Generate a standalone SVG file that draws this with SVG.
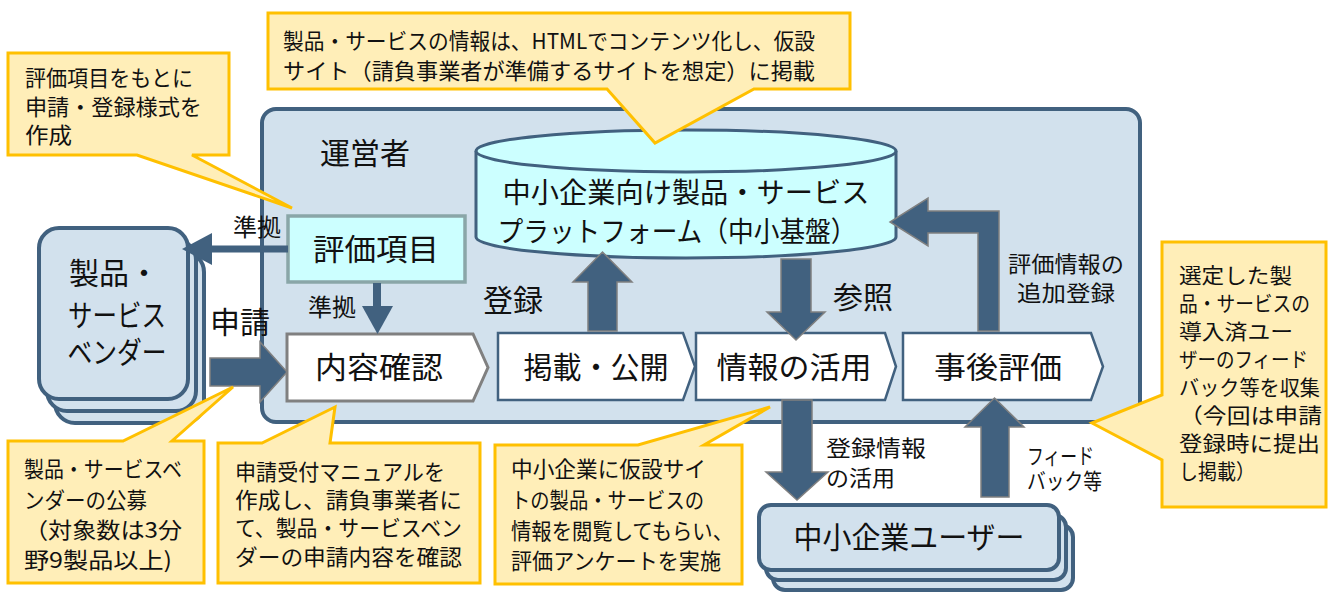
<svg xmlns="http://www.w3.org/2000/svg" width="1330" height="593" viewBox="0 0 1330 593">
<style>
text{font-family:"Noto Sans CJK JP","Noto Sans",sans-serif;fill:#111}
.t21{font-size:21px}
.t22{font-size:22px}
.t24{font-size:24px}
.t30{font-size:30px}
.t28{font-size:28px}
.mid{text-anchor:middle}
.call{fill:#ffeeb8;stroke:#ffc000;stroke-width:3;stroke-linejoin:miter}
.blk{fill:#41617f;stroke:#808080;stroke-width:1.5}
.chev{fill:#fff;stroke:#41617f;stroke-width:2.5}
.stk{fill:#d2e1ed;stroke:#41617f;stroke-width:4}
</style>
<rect width="1330" height="593" fill="#fff"/>

<g id="operator">
<rect x="262" y="109" width="878" height="313" rx="14" fill="#d2e1ed" stroke="#41617f" stroke-width="4"/>
<text class="t30" x="320" y="164" font-size="31">運営者</text>
</g>

<g id="vendor">
<rect class="stk" x="55" y="252" width="149" height="171" rx="20"/>
<rect class="stk" x="47" y="240" width="149" height="171" rx="20"/>
<rect class="stk" x="39" y="228" width="149" height="171" rx="20"/>
<text class="t30 mid" x="114" y="284">製品・</text>
<text class="t30 mid" x="117" y="326" textLength="98" lengthAdjust="spacingAndGlyphs">サービス</text>
<text class="t30 mid" x="117" y="363" textLength="99" lengthAdjust="spacingAndGlyphs">ベンダー</text>
</g>

<g id="platform">
<path d="M476,151 V237 A210,21 0 0 0 896,237 V151" fill="#ccffff" stroke="#41617f" stroke-width="3"/>
<ellipse cx="686" cy="151" rx="210" ry="21" fill="#ccffff" stroke="#41617f" stroke-width="3"/>
<text class="t28 mid" x="686" y="203" textLength="367" lengthAdjust="spacingAndGlyphs">中小企業向け製品・サービス</text>
<text class="t28 mid" x="677" y="242" textLength="359" lengthAdjust="spacingAndGlyphs">プラットフォーム（中小基盤）</text>
</g>

<g id="criteria">
<rect x="288" y="216" width="177" height="66" fill="#ccffff" stroke="#8aa6a8" stroke-width="3.5"/>
<text class="t30 mid" x="376" y="260" textLength="126" lengthAdjust="spacingAndGlyphs">評価項目</text>
</g>

<g id="review">
<path d="M287,334 H473 L488,367.5 L473,401 H287 Z" fill="#fff" stroke="#808080" stroke-width="3"/>
<text class="t30 mid" x="379" y="378" textLength="128" lengthAdjust="spacingAndGlyphs">内容確認</text>
</g>
<g id="publish">
<path class="chev" d="M498,333 H683 L695,366.5 L683,400 H498 Z"/>
<text class="t30 mid" x="596" y="378" textLength="145" lengthAdjust="spacingAndGlyphs">掲載・公開</text>
</g>
<g id="use">
<path class="chev" d="M696,333 H885 L896,366.5 L885,400 H696 Z"/>
<text class="t30 mid" x="794" y="378" textLength="155" lengthAdjust="spacingAndGlyphs">情報の活用</text>
</g>
<g id="posteval">
<path class="chev" d="M903,333 H1091 L1103,366.5 L1091,400 H903 Z"/>
<text class="t30 mid" x="998" y="378" textLength="128" lengthAdjust="spacingAndGlyphs">事後評価</text>
</g>

<g id="smeusers">
<rect class="stk" x="773" y="525" width="300" height="65" rx="12"/>
<rect class="stk" x="766" y="515" width="300" height="65" rx="12"/>
<rect class="stk" x="759" y="505" width="300" height="65" rx="12"/>
<text class="t30 mid" x="909" y="548" textLength="231" lengthAdjust="spacingAndGlyphs">中小企業ユーザー</text>
</g>

<g id="connectors">
<line x1="288" y1="249" x2="208" y2="249" stroke="#41617f" stroke-width="7"/>
<polygon points="182,249 212,233 212,265" fill="#41617f"/>
<text class="t24" x="233" y="236">準拠</text>
<line x1="377" y1="283" x2="377" y2="309" stroke="#41617f" stroke-width="8"/>
<polygon points="362,306 393,306 377.5,334" fill="#41617f"/>
<text class="t24" x="308" y="316">準拠</text>
<polygon class="blk" points="210,358 260,358 260,342 287,372 260,402 260,386 210,386"/>
<text class="t30" x="210" y="333">申請</text>
<polygon class="blk" points="588,331 588,282 573,282 602.5,252 632,282 617,282 617,331"/>
<text class="t30" x="483" y="311">登録</text>
<polygon class="blk" points="781,259 811,259 811,312 825,312 796,340 767,312 781,312"/>
<text class="t30" x="833" y="308">参照</text>
<polygon class="blk" points="978,331 978,233 928,233 928,246 890,222 928,198 928,211 999,211 999,331"/>
<text class="t22" x="1008" y="272" textLength="116" lengthAdjust="spacingAndGlyphs">評価情報の</text>
<text class="t22" x="1017" y="301" textLength="98" lengthAdjust="spacingAndGlyphs">追加登録</text>
<polygon class="blk" points="782,400 812,400 812,472 828,472 797,500 766,472 782,472"/>
<text class="t22" x="826" y="456" textLength="100" lengthAdjust="spacingAndGlyphs">登録情報</text>
<text class="t22" x="826" y="486" textLength="69" lengthAdjust="spacingAndGlyphs">の活用</text>
<polygon class="blk" points="981,497 981,427 965,427 994.5,398 1024,427 1009,427 1009,497"/>
<text class="t22" x="1027" y="464" textLength="67" lengthAdjust="spacingAndGlyphs">フィード</text>
<text class="t22" x="1027" y="489" textLength="75" lengthAdjust="spacingAndGlyphs">バック等</text>
</g>

<g id="note-top">
<path class="call" d="M268,13 H850 V89 H754 L655,143 L607,89 H268 Z"/>
<text class="t22" x="283" y="49" textLength="532" lengthAdjust="spacingAndGlyphs">製品・サービスの情報は、HTMLでコンテンツ化し、仮設</text>
<text class="t22" x="283" y="79" textLength="532" lengthAdjust="spacingAndGlyphs">サイト（請負事業者が準備するサイトを想定）に掲載</text>
</g>

<g id="note-criteria">
<path class="call" d="M8,53 H229 V155 H192 L292,208 L137,155 H8 Z"/>
<text class="t22" x="25" y="86" textLength="168" lengthAdjust="spacingAndGlyphs">評価項目をもとに</text>
<text class="t22" x="25" y="115" textLength="177" lengthAdjust="spacingAndGlyphs">申請・登録様式を</text>
<text class="t22" x="25" y="143" textLength="47" lengthAdjust="spacingAndGlyphs">作成</text>
</g>

<g id="note-vendor">
<path class="call" d="M8,441 H123 L233,387 L172,441 H204 V583 H8 Z"/>
<text class="t22" x="24" y="477" textLength="158" lengthAdjust="spacingAndGlyphs">製品・サービスベ</text>
<text class="t22" x="24" y="508" textLength="123" lengthAdjust="spacingAndGlyphs">ンダーの公募</text>
<text class="t22" x="24" y="538" textLength="158" lengthAdjust="spacingAndGlyphs">（対象数は3分</text>
<text class="t22" x="24" y="568" textLength="148" lengthAdjust="spacingAndGlyphs">野9製品以上)</text>
</g>

<g id="note-review">
<path class="call" d="M218,443 H262 L335,407 L330,443 H480 V583 H218 Z"/>
<text class="t22" x="235" y="480" textLength="210" lengthAdjust="spacingAndGlyphs">申請受付マニュアルを</text>
<text class="t22" x="235" y="508" textLength="227" lengthAdjust="spacingAndGlyphs">作成し、請負事業者に</text>
<text class="t22" x="235" y="536" textLength="227" lengthAdjust="spacingAndGlyphs">て、製品・サービスベン</text>
<text class="t22" x="235" y="565" textLength="227" lengthAdjust="spacingAndGlyphs">ダーの申請内容を確認</text>
</g>

<g id="note-use">
<path class="call" d="M495,445 H638 L770,407 L704,445 H742 V584 H495 Z"/>
<text class="t22" x="511" y="477" textLength="195" lengthAdjust="spacingAndGlyphs">中小企業に仮設サイ</text>
<text class="t22" x="511" y="508" textLength="193" lengthAdjust="spacingAndGlyphs">トの製品・サービスの</text>
<text class="t22" x="511" y="539" textLength="222" lengthAdjust="spacingAndGlyphs">情報を閲覧してもらい、</text>
<text class="t22" x="511" y="569" textLength="210" lengthAdjust="spacingAndGlyphs">評価アンケートを実施</text>
</g>

<g id="note-feedback">
<path class="call" d="M1162,242 H1326 V507 H1162 V460 L1092,423 L1162,395 Z"/>
<text class="t21" x="1179" y="283" textLength="113" lengthAdjust="spacingAndGlyphs">選定した製</text>
<text class="t21" x="1179" y="311" textLength="131" lengthAdjust="spacingAndGlyphs">品・サービスの</text>
<text class="t21" x="1179" y="339" textLength="114" lengthAdjust="spacingAndGlyphs">導入済ユー</text>
<text class="t21" x="1179" y="367" textLength="129" lengthAdjust="spacingAndGlyphs">ザーのフィード</text>
<text class="t21" x="1179" y="395" textLength="141" lengthAdjust="spacingAndGlyphs">バック等を収集</text>
<text class="t21" x="1179" y="423" textLength="143" lengthAdjust="spacingAndGlyphs">（今回は申請</text>
<text class="t21" x="1179" y="451" textLength="141" lengthAdjust="spacingAndGlyphs">登録時に提出</text>
<text class="t21" x="1179" y="479" textLength="76" lengthAdjust="spacingAndGlyphs">し掲載）</text>
</g>
</svg>
